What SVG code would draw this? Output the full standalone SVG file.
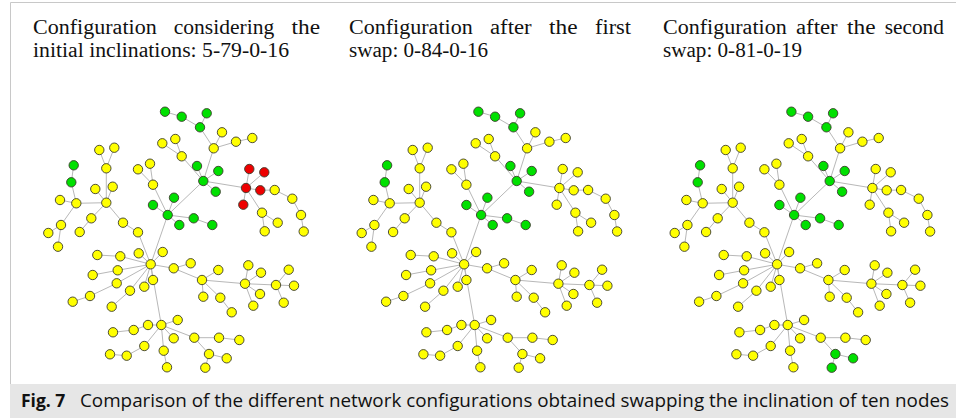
<svg xmlns="http://www.w3.org/2000/svg" xmlns:xlink="http://www.w3.org/1999/xlink" width="956" height="418" viewBox="0 0 956 418">
<style>
.t{font-family:"Liberation Serif","DejaVu Serif",serif;font-size:20.5px;fill:#111}
.cap{font-family:"Open Sans","Liberation Sans",sans-serif;font-size:17.5px;fill:#111}
.e line{stroke:#b8b8b8;stroke-width:1}
circle{stroke:#3c3c2c;stroke-width:0.9}
.y{fill:#ffff00}.g{fill:#00e000}.r{fill:#ee0000}
</style>
<defs>
<g id="edges" class="e">
<line x1="165" y1="111.7" x2="181.7" y2="116.7"/><line x1="181.7" y1="116.7" x2="200" y2="127.3"/><line x1="206.7" y1="113.3" x2="200" y2="127.3"/><line x1="200" y1="127.3" x2="213.7" y2="148.3"/><line x1="222" y1="132.3" x2="213.7" y2="148.3"/><line x1="213.7" y1="148.3" x2="236" y2="141.7"/><line x1="236" y1="141.7" x2="252.3" y2="138"/><line x1="213.7" y1="148.3" x2="203.3" y2="181"/>
<line x1="162.3" y1="143.3" x2="181.7" y2="156.3"/><line x1="175.3" y1="139" x2="181.7" y2="156.3"/><line x1="181.7" y1="156.3" x2="203.3" y2="181"/><line x1="197" y1="166" x2="203.3" y2="181"/><line x1="218.3" y1="171" x2="203.3" y2="181"/><line x1="215.7" y1="191.7" x2="203.3" y2="181"/>
<line x1="203.3" y1="181" x2="246" y2="188"/><line x1="203.3" y1="181" x2="167.7" y2="215"/>
<line x1="249.3" y1="169" x2="246" y2="188"/><line x1="264.3" y1="172.3" x2="246" y2="188"/><line x1="243.3" y1="204.7" x2="246" y2="188"/><line x1="246" y1="188" x2="260.3" y2="190.3"/><line x1="260.3" y1="190.3" x2="274.7" y2="190"/><line x1="274.7" y1="190" x2="292.3" y2="198.7"/><line x1="292.3" y1="198.7" x2="301" y2="215"/><line x1="301" y1="215" x2="303.7" y2="231.5"/>
<line x1="246" y1="188" x2="262" y2="212.7"/><line x1="262" y1="212.7" x2="277.7" y2="222.7"/><line x1="262" y1="212.7" x2="264.7" y2="231.3"/>
<line x1="99.3" y1="150" x2="106.3" y2="168.3"/><line x1="114.3" y1="147.7" x2="106.3" y2="168.3"/><line x1="106.3" y1="168.3" x2="106.3" y2="202.7"/><line x1="95.3" y1="189" x2="106.3" y2="202.7"/><line x1="112.7" y1="186.7" x2="106.3" y2="202.7"/>
<line x1="73.7" y1="165.3" x2="71.3" y2="182.3"/><line x1="71.3" y1="182.3" x2="76.3" y2="203.3"/><line x1="60" y1="200" x2="76.3" y2="203.3"/><line x1="76.3" y1="203.3" x2="106.3" y2="202.7"/><line x1="76.3" y1="203.3" x2="61" y2="225"/><line x1="61" y1="225" x2="48.3" y2="233"/><line x1="61" y1="225" x2="58" y2="246.7"/>
<line x1="106.3" y1="202.7" x2="91.3" y2="218.3"/><line x1="91.3" y1="218.3" x2="79.7" y2="232"/><line x1="106.3" y1="202.7" x2="123" y2="222.7"/><line x1="123" y1="222.7" x2="138" y2="232.3"/><line x1="138" y1="232.3" x2="150.7" y2="264.3"/>
<line x1="138" y1="169.3" x2="153" y2="184.7"/><line x1="150" y1="163.7" x2="153" y2="184.7"/><line x1="153" y1="184.7" x2="167.7" y2="215"/><line x1="153" y1="205" x2="167.7" y2="215"/><line x1="174" y1="197.7" x2="167.7" y2="215"/><line x1="179.3" y1="225" x2="167.7" y2="215"/><line x1="167.7" y1="215" x2="193.7" y2="218.3"/><line x1="193.7" y1="218.3" x2="212.3" y2="225"/><line x1="167.7" y1="215" x2="150.7" y2="264.3"/>
<line x1="97.3" y1="255" x2="120.3" y2="256.3"/><line x1="120.3" y1="256.3" x2="150.7" y2="264.3"/><line x1="138.7" y1="253.3" x2="150.7" y2="264.3"/><line x1="162.7" y1="252" x2="150.7" y2="264.3"/><line x1="173.7" y1="268.3" x2="150.7" y2="264.3"/><line x1="92.7" y1="275" x2="117.7" y2="270.3"/><line x1="117.7" y1="270.3" x2="150.7" y2="264.3"/>
<line x1="72.7" y1="301.7" x2="90" y2="296"/><line x1="90" y1="296" x2="116.7" y2="283.3"/><line x1="116.7" y1="283.3" x2="150.7" y2="264.3"/><line x1="111.7" y1="306.7" x2="130" y2="290.7"/><line x1="130" y1="290.7" x2="150.7" y2="264.3"/><line x1="144.3" y1="286.7" x2="150.7" y2="264.3"/><line x1="153" y1="280" x2="150.7" y2="264.3"/><line x1="150.7" y1="264.3" x2="161.3" y2="325"/>
<line x1="113" y1="332.3" x2="133.7" y2="330"/><line x1="133.7" y1="330" x2="148" y2="325"/><line x1="148" y1="325" x2="161.3" y2="325"/><line x1="173.7" y1="338.3" x2="161.3" y2="325"/><line x1="177.7" y1="320" x2="161.3" y2="325"/><line x1="110" y1="354.3" x2="126.7" y2="355.7"/><line x1="126.7" y1="355.7" x2="144.3" y2="346"/><line x1="144.3" y1="346" x2="161.3" y2="325"/><line x1="163.7" y1="350.7" x2="161.3" y2="325"/><line x1="167" y1="367.3" x2="163.7" y2="350.7"/>
<line x1="173.7" y1="268.3" x2="190.7" y2="263.3"/><line x1="173.7" y1="268.3" x2="202" y2="280"/><line x1="202" y1="280" x2="218.3" y2="270"/><line x1="202" y1="280" x2="203.3" y2="296.7"/><line x1="202" y1="280" x2="220.3" y2="297.7"/><line x1="220.3" y1="297.7" x2="231.7" y2="312.3"/><line x1="202" y1="280" x2="245" y2="283.7"/>
<line x1="245" y1="283.7" x2="248.3" y2="265.3"/><line x1="245" y1="283.7" x2="261" y2="272.7"/><line x1="245" y1="283.7" x2="260" y2="294"/><line x1="245" y1="283.7" x2="253.3" y2="305.7"/><line x1="245" y1="283.7" x2="276" y2="285"/><line x1="276" y1="285" x2="288.7" y2="269.7"/><line x1="276" y1="285" x2="294" y2="285.7"/><line x1="276" y1="285" x2="283.7" y2="302.7"/>
<line x1="161.3" y1="325" x2="194.3" y2="337.7"/><line x1="194.3" y1="337.7" x2="219" y2="337.7"/><line x1="219" y1="337.7" x2="239.3" y2="340"/><line x1="194.3" y1="337.7" x2="209" y2="354"/><line x1="209" y1="354" x2="226.7" y2="358.3"/><line x1="209" y1="354" x2="205.3" y2="367.7"/>
</g>
</defs>

<path d="M10.5,384 V2.5 H956" fill="none" stroke="#c8c8c8" stroke-width="1"/>

<g id="titles">
<text class="t" y="34"><tspan x="33" textLength="123.7" lengthAdjust="spacingAndGlyphs">Configuration</tspan><tspan x="173.7" textLength="100.5" lengthAdjust="spacingAndGlyphs">considering</tspan><tspan x="291.5" textLength="28.5" lengthAdjust="spacingAndGlyphs">the</tspan></text>
<text class="t" x="33" y="57" textLength="256" lengthAdjust="spacingAndGlyphs">initial inclinations: 5-79-0-16</text>
<text class="t" y="34"><tspan x="349" textLength="123.7" lengthAdjust="spacingAndGlyphs">Configuration</tspan><tspan x="490" textLength="41.6" lengthAdjust="spacingAndGlyphs">after</tspan><tspan x="549" textLength="28.5" lengthAdjust="spacingAndGlyphs">the</tspan><tspan x="595" textLength="36" lengthAdjust="spacingAndGlyphs">first</tspan></text>
<text class="t" x="349" y="57" textLength="139" lengthAdjust="spacingAndGlyphs">swap: 0-84-0-16</text>
<text class="t" y="34"><tspan x="663" textLength="123.7" lengthAdjust="spacingAndGlyphs">Configuration</tspan><tspan x="796" textLength="41.6" lengthAdjust="spacingAndGlyphs">after</tspan><tspan x="847" textLength="28.5" lengthAdjust="spacingAndGlyphs">the</tspan><tspan x="884.7" textLength="59.3" lengthAdjust="spacingAndGlyphs">second</tspan></text>
<text class="t" x="663" y="57" textLength="139" lengthAdjust="spacingAndGlyphs">swap: 0-81-0-19</text>
</g>

<g id="connectors">
<use xlink:href="#edges" href="#edges"/>
<use xlink:href="#edges" href="#edges" transform="translate(313.4,0)"/>
<use xlink:href="#edges" href="#edges" transform="translate(626.4,0)"/>
</g>

<g id="graph1">
<g id="a1"><circle class="g" cx="165" cy="111.7" r="4.7"/></g>
<g id="a2"><circle class="g" cx="181.7" cy="116.7" r="4.7"/></g>
<g id="a3"><circle class="g" cx="206.7" cy="113.3" r="4.7"/></g>
<g id="a4"><circle class="g" cx="200" cy="127.3" r="4.7"/></g>
<g id="a5"><circle class="y" cx="213.7" cy="148.3" r="4.7"/></g>
<g id="a6"><circle class="y" cx="222" cy="132.3" r="4.7"/></g>
<g id="a7"><circle class="y" cx="236" cy="141.7" r="4.7"/></g>
<g id="a8"><circle class="y" cx="252.3" cy="138" r="4.7"/></g>
<g id="a9"><circle class="y" cx="162.3" cy="143.3" r="4.7"/></g>
<g id="a10"><circle class="y" cx="175.3" cy="139" r="4.7"/></g>
<g id="a11"><circle class="y" cx="181.7" cy="156.3" r="4.7"/></g>
<g id="a12"><circle class="g" cx="197" cy="166" r="4.7"/></g>
<g id="a13"><circle class="g" cx="218.3" cy="171" r="4.7"/></g>
<g id="a14"><circle class="g" cx="203.3" cy="181" r="4.7"/></g>
<g id="a15"><circle class="g" cx="215.7" cy="191.7" r="4.7"/></g>
<g id="a16"><circle class="r" cx="249.3" cy="169" r="4.7"/></g>
<g id="a17"><circle class="r" cx="264.3" cy="172.3" r="4.7"/></g>
<g id="a18"><circle class="r" cx="246" cy="188" r="4.7"/></g>
<g id="a19"><circle class="r" cx="260.3" cy="190.3" r="4.7"/></g>
<g id="a20"><circle class="r" cx="243.3" cy="204.7" r="4.7"/></g>
<g id="a21"><circle class="y" cx="274.7" cy="190" r="4.7"/></g>
<g id="a22"><circle class="y" cx="292.3" cy="198.7" r="4.7"/></g>
<g id="a23"><circle class="y" cx="301" cy="215" r="4.7"/></g>
<g id="a24"><circle class="y" cx="303.7" cy="231.5" r="4.7"/></g>
<g id="a25"><circle class="y" cx="262" cy="212.7" r="4.7"/></g>
<g id="a26"><circle class="y" cx="277.7" cy="222.7" r="4.7"/></g>
<g id="a27"><circle class="y" cx="264.7" cy="231.3" r="4.7"/></g>
<g id="a28"><circle class="y" cx="99.3" cy="150" r="4.7"/></g>
<g id="a29"><circle class="y" cx="114.3" cy="147.7" r="4.7"/></g>
<g id="a30"><circle class="y" cx="106.3" cy="168.3" r="4.7"/></g>
<g id="a31"><circle class="g" cx="73.7" cy="165.3" r="4.7"/></g>
<g id="a32"><circle class="g" cx="71.3" cy="182.3" r="4.7"/></g>
<g id="a33"><circle class="y" cx="138" cy="169.3" r="4.7"/></g>
<g id="a34"><circle class="y" cx="150" cy="163.7" r="4.7"/></g>
<g id="a35"><circle class="y" cx="153" cy="184.7" r="4.7"/></g>
<g id="a36"><circle class="y" cx="95.3" cy="189" r="4.7"/></g>
<g id="a37"><circle class="y" cx="112.7" cy="186.7" r="4.7"/></g>
<g id="a38"><circle class="y" cx="60" cy="200" r="4.7"/></g>
<g id="a39"><circle class="y" cx="76.3" cy="203.3" r="4.7"/></g>
<g id="a40"><circle class="y" cx="106.3" cy="202.7" r="4.7"/></g>
<g id="a41"><circle class="g" cx="153" cy="205" r="4.7"/></g>
<g id="a42"><circle class="g" cx="174" cy="197.7" r="4.7"/></g>
<g id="a43"><circle class="g" cx="167.7" cy="215" r="4.7"/></g>
<g id="a44"><circle class="g" cx="179.3" cy="225" r="4.7"/></g>
<g id="a45"><circle class="g" cx="193.7" cy="218.3" r="4.7"/></g>
<g id="a46"><circle class="g" cx="212.3" cy="225" r="4.7"/></g>
<g id="a47"><circle class="y" cx="91.3" cy="218.3" r="4.7"/></g>
<g id="a48"><circle class="y" cx="123" cy="222.7" r="4.7"/></g>
<g id="a49"><circle class="y" cx="61" cy="225" r="4.7"/></g>
<g id="a50"><circle class="y" cx="48.3" cy="233" r="4.7"/></g>
<g id="a51"><circle class="y" cx="79.7" cy="232" r="4.7"/></g>
<g id="a52"><circle class="y" cx="138" cy="232.3" r="4.7"/></g>
<g id="a53"><circle class="y" cx="58" cy="246.7" r="4.7"/></g>
<g id="a54"><circle class="y" cx="150.7" cy="264.3" r="4.7"/></g>
<g id="a55"><circle class="y" cx="97.3" cy="255" r="4.7"/></g>
<g id="a56"><circle class="y" cx="120.3" cy="256.3" r="4.7"/></g>
<g id="a57"><circle class="y" cx="138.7" cy="253.3" r="4.7"/></g>
<g id="a58"><circle class="y" cx="162.7" cy="252" r="4.7"/></g>
<g id="a59"><circle class="y" cx="173.7" cy="268.3" r="4.7"/></g>
<g id="a60"><circle class="y" cx="92.7" cy="275" r="4.7"/></g>
<g id="a61"><circle class="y" cx="117.7" cy="270.3" r="4.7"/></g>
<g id="a62"><circle class="y" cx="116.7" cy="283.3" r="4.7"/></g>
<g id="a63"><circle class="y" cx="153" cy="280" r="4.7"/></g>
<g id="a64"><circle class="y" cx="144.3" cy="286.7" r="4.7"/></g>
<g id="a65"><circle class="y" cx="130" cy="290.7" r="4.7"/></g>
<g id="a66"><circle class="y" cx="90" cy="296" r="4.7"/></g>
<g id="a67"><circle class="y" cx="72.7" cy="301.7" r="4.7"/></g>
<g id="a68"><circle class="y" cx="111.7" cy="306.7" r="4.7"/></g>
<g id="a69"><circle class="y" cx="161.3" cy="325" r="4.7"/></g>
<g id="a70"><circle class="y" cx="177.7" cy="320" r="4.7"/></g>
<g id="a71"><circle class="y" cx="148" cy="325" r="4.7"/></g>
<g id="a72"><circle class="y" cx="133.7" cy="330" r="4.7"/></g>
<g id="a73"><circle class="y" cx="113" cy="332.3" r="4.7"/></g>
<g id="a74"><circle class="y" cx="173.7" cy="338.3" r="4.7"/></g>
<g id="a75"><circle class="y" cx="144.3" cy="346" r="4.7"/></g>
<g id="a76"><circle class="y" cx="126.7" cy="355.7" r="4.7"/></g>
<g id="a77"><circle class="y" cx="110" cy="354.3" r="4.7"/></g>
<g id="a78"><circle class="y" cx="163.7" cy="350.7" r="4.7"/></g>
<g id="a79"><circle class="y" cx="167" cy="367.3" r="4.7"/></g>
<g id="a80"><circle class="y" cx="190.7" cy="263.3" r="4.7"/></g>
<g id="a81"><circle class="y" cx="202" cy="280" r="4.7"/></g>
<g id="a82"><circle class="y" cx="218.3" cy="270" r="4.7"/></g>
<g id="a83"><circle class="y" cx="203.3" cy="296.7" r="4.7"/></g>
<g id="a84"><circle class="y" cx="220.3" cy="297.7" r="4.7"/></g>
<g id="a85"><circle class="y" cx="231.7" cy="312.3" r="4.7"/></g>
<g id="a86"><circle class="y" cx="245" cy="283.7" r="4.7"/></g>
<g id="a87"><circle class="y" cx="248.3" cy="265.3" r="4.7"/></g>
<g id="a88"><circle class="y" cx="261" cy="272.7" r="4.7"/></g>
<g id="a89"><circle class="y" cx="260" cy="294" r="4.7"/></g>
<g id="a90"><circle class="y" cx="253.3" cy="305.7" r="4.7"/></g>
<g id="a91"><circle class="y" cx="276" cy="285" r="4.7"/></g>
<g id="a92"><circle class="y" cx="288.7" cy="269.7" r="4.7"/></g>
<g id="a93"><circle class="y" cx="294" cy="285.7" r="4.7"/></g>
<g id="a94"><circle class="y" cx="283.7" cy="302.7" r="4.7"/></g>
<g id="a95"><circle class="y" cx="194.3" cy="337.7" r="4.7"/></g>
<g id="a96"><circle class="y" cx="219" cy="337.7" r="4.7"/></g>
<g id="a97"><circle class="y" cx="239.3" cy="340" r="4.7"/></g>
<g id="a98"><circle class="y" cx="209" cy="354" r="4.7"/></g>
<g id="a99"><circle class="y" cx="226.7" cy="358.3" r="4.7"/></g>
<g id="a100"><circle class="y" cx="205.3" cy="367.7" r="4.7"/></g>
</g>

<g id="graph2" transform="translate(313.4,0)">
<g id="b1"><circle class="g" cx="165" cy="111.7" r="4.7"/></g>
<g id="b2"><circle class="g" cx="181.7" cy="116.7" r="4.7"/></g>
<g id="b3"><circle class="g" cx="206.7" cy="113.3" r="4.7"/></g>
<g id="b4"><circle class="g" cx="200" cy="127.3" r="4.7"/></g>
<g id="b5"><circle class="y" cx="213.7" cy="148.3" r="4.7"/></g>
<g id="b6"><circle class="y" cx="222" cy="132.3" r="4.7"/></g>
<g id="b7"><circle class="y" cx="236" cy="141.7" r="4.7"/></g>
<g id="b8"><circle class="y" cx="252.3" cy="138" r="4.7"/></g>
<g id="b9"><circle class="y" cx="162.3" cy="143.3" r="4.7"/></g>
<g id="b10"><circle class="y" cx="175.3" cy="139" r="4.7"/></g>
<g id="b11"><circle class="y" cx="181.7" cy="156.3" r="4.7"/></g>
<g id="b12"><circle class="g" cx="197" cy="166" r="4.7"/></g>
<g id="b13"><circle class="g" cx="218.3" cy="171" r="4.7"/></g>
<g id="b14"><circle class="g" cx="203.3" cy="181" r="4.7"/></g>
<g id="b15"><circle class="g" cx="215.7" cy="191.7" r="4.7"/></g>
<g id="b16"><circle class="y" cx="249.3" cy="169" r="4.7"/></g>
<g id="b17"><circle class="y" cx="264.3" cy="172.3" r="4.7"/></g>
<g id="b18"><circle class="y" cx="246" cy="188" r="4.7"/></g>
<g id="b19"><circle class="y" cx="260.3" cy="190.3" r="4.7"/></g>
<g id="b20"><circle class="y" cx="243.3" cy="204.7" r="4.7"/></g>
<g id="b21"><circle class="y" cx="274.7" cy="190" r="4.7"/></g>
<g id="b22"><circle class="y" cx="292.3" cy="198.7" r="4.7"/></g>
<g id="b23"><circle class="y" cx="301" cy="215" r="4.7"/></g>
<g id="b24"><circle class="y" cx="303.7" cy="231.5" r="4.7"/></g>
<g id="b25"><circle class="y" cx="262" cy="212.7" r="4.7"/></g>
<g id="b26"><circle class="y" cx="277.7" cy="222.7" r="4.7"/></g>
<g id="b27"><circle class="y" cx="264.7" cy="231.3" r="4.7"/></g>
<g id="b28"><circle class="y" cx="99.3" cy="150" r="4.7"/></g>
<g id="b29"><circle class="y" cx="114.3" cy="147.7" r="4.7"/></g>
<g id="b30"><circle class="y" cx="106.3" cy="168.3" r="4.7"/></g>
<g id="b31"><circle class="g" cx="73.7" cy="165.3" r="4.7"/></g>
<g id="b32"><circle class="g" cx="71.3" cy="182.3" r="4.7"/></g>
<g id="b33"><circle class="y" cx="138" cy="169.3" r="4.7"/></g>
<g id="b34"><circle class="y" cx="150" cy="163.7" r="4.7"/></g>
<g id="b35"><circle class="y" cx="153" cy="184.7" r="4.7"/></g>
<g id="b36"><circle class="y" cx="95.3" cy="189" r="4.7"/></g>
<g id="b37"><circle class="y" cx="112.7" cy="186.7" r="4.7"/></g>
<g id="b38"><circle class="y" cx="60" cy="200" r="4.7"/></g>
<g id="b39"><circle class="y" cx="76.3" cy="203.3" r="4.7"/></g>
<g id="b40"><circle class="y" cx="106.3" cy="202.7" r="4.7"/></g>
<g id="b41"><circle class="g" cx="153" cy="205" r="4.7"/></g>
<g id="b42"><circle class="g" cx="174" cy="197.7" r="4.7"/></g>
<g id="b43"><circle class="g" cx="167.7" cy="215" r="4.7"/></g>
<g id="b44"><circle class="g" cx="179.3" cy="225" r="4.7"/></g>
<g id="b45"><circle class="g" cx="193.7" cy="218.3" r="4.7"/></g>
<g id="b46"><circle class="g" cx="212.3" cy="225" r="4.7"/></g>
<g id="b47"><circle class="y" cx="91.3" cy="218.3" r="4.7"/></g>
<g id="b48"><circle class="y" cx="123" cy="222.7" r="4.7"/></g>
<g id="b49"><circle class="y" cx="61" cy="225" r="4.7"/></g>
<g id="b50"><circle class="y" cx="48.3" cy="233" r="4.7"/></g>
<g id="b51"><circle class="y" cx="79.7" cy="232" r="4.7"/></g>
<g id="b52"><circle class="y" cx="138" cy="232.3" r="4.7"/></g>
<g id="b53"><circle class="y" cx="58" cy="246.7" r="4.7"/></g>
<g id="b54"><circle class="y" cx="150.7" cy="264.3" r="4.7"/></g>
<g id="b55"><circle class="y" cx="97.3" cy="255" r="4.7"/></g>
<g id="b56"><circle class="y" cx="120.3" cy="256.3" r="4.7"/></g>
<g id="b57"><circle class="y" cx="138.7" cy="253.3" r="4.7"/></g>
<g id="b58"><circle class="y" cx="162.7" cy="252" r="4.7"/></g>
<g id="b59"><circle class="y" cx="173.7" cy="268.3" r="4.7"/></g>
<g id="b60"><circle class="y" cx="92.7" cy="275" r="4.7"/></g>
<g id="b61"><circle class="y" cx="117.7" cy="270.3" r="4.7"/></g>
<g id="b62"><circle class="y" cx="116.7" cy="283.3" r="4.7"/></g>
<g id="b63"><circle class="y" cx="153" cy="280" r="4.7"/></g>
<g id="b64"><circle class="y" cx="144.3" cy="286.7" r="4.7"/></g>
<g id="b65"><circle class="y" cx="130" cy="290.7" r="4.7"/></g>
<g id="b66"><circle class="y" cx="90" cy="296" r="4.7"/></g>
<g id="b67"><circle class="y" cx="72.7" cy="301.7" r="4.7"/></g>
<g id="b68"><circle class="y" cx="111.7" cy="306.7" r="4.7"/></g>
<g id="b69"><circle class="y" cx="161.3" cy="325" r="4.7"/></g>
<g id="b70"><circle class="y" cx="177.7" cy="320" r="4.7"/></g>
<g id="b71"><circle class="y" cx="148" cy="325" r="4.7"/></g>
<g id="b72"><circle class="y" cx="133.7" cy="330" r="4.7"/></g>
<g id="b73"><circle class="y" cx="113" cy="332.3" r="4.7"/></g>
<g id="b74"><circle class="y" cx="173.7" cy="338.3" r="4.7"/></g>
<g id="b75"><circle class="y" cx="144.3" cy="346" r="4.7"/></g>
<g id="b76"><circle class="y" cx="126.7" cy="355.7" r="4.7"/></g>
<g id="b77"><circle class="y" cx="110" cy="354.3" r="4.7"/></g>
<g id="b78"><circle class="y" cx="163.7" cy="350.7" r="4.7"/></g>
<g id="b79"><circle class="y" cx="167" cy="367.3" r="4.7"/></g>
<g id="b80"><circle class="y" cx="190.7" cy="263.3" r="4.7"/></g>
<g id="b81"><circle class="y" cx="202" cy="280" r="4.7"/></g>
<g id="b82"><circle class="y" cx="218.3" cy="270" r="4.7"/></g>
<g id="b83"><circle class="y" cx="203.3" cy="296.7" r="4.7"/></g>
<g id="b84"><circle class="y" cx="220.3" cy="297.7" r="4.7"/></g>
<g id="b85"><circle class="y" cx="231.7" cy="312.3" r="4.7"/></g>
<g id="b86"><circle class="y" cx="245" cy="283.7" r="4.7"/></g>
<g id="b87"><circle class="y" cx="248.3" cy="265.3" r="4.7"/></g>
<g id="b88"><circle class="y" cx="261" cy="272.7" r="4.7"/></g>
<g id="b89"><circle class="y" cx="260" cy="294" r="4.7"/></g>
<g id="b90"><circle class="y" cx="253.3" cy="305.7" r="4.7"/></g>
<g id="b91"><circle class="y" cx="276" cy="285" r="4.7"/></g>
<g id="b92"><circle class="y" cx="288.7" cy="269.7" r="4.7"/></g>
<g id="b93"><circle class="y" cx="294" cy="285.7" r="4.7"/></g>
<g id="b94"><circle class="y" cx="283.7" cy="302.7" r="4.7"/></g>
<g id="b95"><circle class="y" cx="194.3" cy="337.7" r="4.7"/></g>
<g id="b96"><circle class="y" cx="219" cy="337.7" r="4.7"/></g>
<g id="b97"><circle class="y" cx="239.3" cy="340" r="4.7"/></g>
<g id="b98"><circle class="y" cx="209" cy="354" r="4.7"/></g>
<g id="b99"><circle class="y" cx="226.7" cy="358.3" r="4.7"/></g>
<g id="b100"><circle class="y" cx="205.3" cy="367.7" r="4.7"/></g>
</g>

<g id="graph3" transform="translate(626.4,0)">
<g id="c1"><circle class="g" cx="165" cy="111.7" r="4.7"/></g>
<g id="c2"><circle class="g" cx="181.7" cy="116.7" r="4.7"/></g>
<g id="c3"><circle class="g" cx="206.7" cy="113.3" r="4.7"/></g>
<g id="c4"><circle class="g" cx="200" cy="127.3" r="4.7"/></g>
<g id="c5"><circle class="y" cx="213.7" cy="148.3" r="4.7"/></g>
<g id="c6"><circle class="y" cx="222" cy="132.3" r="4.7"/></g>
<g id="c7"><circle class="y" cx="236" cy="141.7" r="4.7"/></g>
<g id="c8"><circle class="y" cx="252.3" cy="138" r="4.7"/></g>
<g id="c9"><circle class="y" cx="162.3" cy="143.3" r="4.7"/></g>
<g id="c10"><circle class="y" cx="175.3" cy="139" r="4.7"/></g>
<g id="c11"><circle class="y" cx="181.7" cy="156.3" r="4.7"/></g>
<g id="c12"><circle class="g" cx="197" cy="166" r="4.7"/></g>
<g id="c13"><circle class="g" cx="218.3" cy="171" r="4.7"/></g>
<g id="c14"><circle class="g" cx="203.3" cy="181" r="4.7"/></g>
<g id="c15"><circle class="g" cx="215.7" cy="191.7" r="4.7"/></g>
<g id="c16"><circle class="y" cx="249.3" cy="169" r="4.7"/></g>
<g id="c17"><circle class="y" cx="264.3" cy="172.3" r="4.7"/></g>
<g id="c18"><circle class="y" cx="246" cy="188" r="4.7"/></g>
<g id="c19"><circle class="y" cx="260.3" cy="190.3" r="4.7"/></g>
<g id="c20"><circle class="y" cx="243.3" cy="204.7" r="4.7"/></g>
<g id="c21"><circle class="y" cx="274.7" cy="190" r="4.7"/></g>
<g id="c22"><circle class="y" cx="292.3" cy="198.7" r="4.7"/></g>
<g id="c23"><circle class="y" cx="301" cy="215" r="4.7"/></g>
<g id="c24"><circle class="y" cx="303.7" cy="231.5" r="4.7"/></g>
<g id="c25"><circle class="y" cx="262" cy="212.7" r="4.7"/></g>
<g id="c26"><circle class="y" cx="277.7" cy="222.7" r="4.7"/></g>
<g id="c27"><circle class="y" cx="264.7" cy="231.3" r="4.7"/></g>
<g id="c28"><circle class="y" cx="99.3" cy="150" r="4.7"/></g>
<g id="c29"><circle class="y" cx="114.3" cy="147.7" r="4.7"/></g>
<g id="c30"><circle class="y" cx="106.3" cy="168.3" r="4.7"/></g>
<g id="c31"><circle class="g" cx="73.7" cy="165.3" r="4.7"/></g>
<g id="c32"><circle class="g" cx="71.3" cy="182.3" r="4.7"/></g>
<g id="c33"><circle class="y" cx="138" cy="169.3" r="4.7"/></g>
<g id="c34"><circle class="y" cx="150" cy="163.7" r="4.7"/></g>
<g id="c35"><circle class="y" cx="153" cy="184.7" r="4.7"/></g>
<g id="c36"><circle class="y" cx="95.3" cy="189" r="4.7"/></g>
<g id="c37"><circle class="y" cx="112.7" cy="186.7" r="4.7"/></g>
<g id="c38"><circle class="y" cx="60" cy="200" r="4.7"/></g>
<g id="c39"><circle class="y" cx="76.3" cy="203.3" r="4.7"/></g>
<g id="c40"><circle class="y" cx="106.3" cy="202.7" r="4.7"/></g>
<g id="c41"><circle class="g" cx="153" cy="205" r="4.7"/></g>
<g id="c42"><circle class="g" cx="174" cy="197.7" r="4.7"/></g>
<g id="c43"><circle class="g" cx="167.7" cy="215" r="4.7"/></g>
<g id="c44"><circle class="g" cx="179.3" cy="225" r="4.7"/></g>
<g id="c45"><circle class="g" cx="193.7" cy="218.3" r="4.7"/></g>
<g id="c46"><circle class="g" cx="212.3" cy="225" r="4.7"/></g>
<g id="c47"><circle class="y" cx="91.3" cy="218.3" r="4.7"/></g>
<g id="c48"><circle class="y" cx="123" cy="222.7" r="4.7"/></g>
<g id="c49"><circle class="y" cx="61" cy="225" r="4.7"/></g>
<g id="c50"><circle class="y" cx="48.3" cy="233" r="4.7"/></g>
<g id="c51"><circle class="y" cx="79.7" cy="232" r="4.7"/></g>
<g id="c52"><circle class="y" cx="138" cy="232.3" r="4.7"/></g>
<g id="c53"><circle class="y" cx="58" cy="246.7" r="4.7"/></g>
<g id="c54"><circle class="y" cx="150.7" cy="264.3" r="4.7"/></g>
<g id="c55"><circle class="y" cx="97.3" cy="255" r="4.7"/></g>
<g id="c56"><circle class="y" cx="120.3" cy="256.3" r="4.7"/></g>
<g id="c57"><circle class="y" cx="138.7" cy="253.3" r="4.7"/></g>
<g id="c58"><circle class="y" cx="162.7" cy="252" r="4.7"/></g>
<g id="c59"><circle class="y" cx="173.7" cy="268.3" r="4.7"/></g>
<g id="c60"><circle class="y" cx="92.7" cy="275" r="4.7"/></g>
<g id="c61"><circle class="y" cx="117.7" cy="270.3" r="4.7"/></g>
<g id="c62"><circle class="y" cx="116.7" cy="283.3" r="4.7"/></g>
<g id="c63"><circle class="y" cx="153" cy="280" r="4.7"/></g>
<g id="c64"><circle class="y" cx="144.3" cy="286.7" r="4.7"/></g>
<g id="c65"><circle class="y" cx="130" cy="290.7" r="4.7"/></g>
<g id="c66"><circle class="y" cx="90" cy="296" r="4.7"/></g>
<g id="c67"><circle class="y" cx="72.7" cy="301.7" r="4.7"/></g>
<g id="c68"><circle class="y" cx="111.7" cy="306.7" r="4.7"/></g>
<g id="c69"><circle class="y" cx="161.3" cy="325" r="4.7"/></g>
<g id="c70"><circle class="y" cx="177.7" cy="320" r="4.7"/></g>
<g id="c71"><circle class="y" cx="148" cy="325" r="4.7"/></g>
<g id="c72"><circle class="y" cx="133.7" cy="330" r="4.7"/></g>
<g id="c73"><circle class="y" cx="113" cy="332.3" r="4.7"/></g>
<g id="c74"><circle class="y" cx="173.7" cy="338.3" r="4.7"/></g>
<g id="c75"><circle class="y" cx="144.3" cy="346" r="4.7"/></g>
<g id="c76"><circle class="y" cx="126.7" cy="355.7" r="4.7"/></g>
<g id="c77"><circle class="y" cx="110" cy="354.3" r="4.7"/></g>
<g id="c78"><circle class="y" cx="163.7" cy="350.7" r="4.7"/></g>
<g id="c79"><circle class="y" cx="167" cy="367.3" r="4.7"/></g>
<g id="c80"><circle class="y" cx="190.7" cy="263.3" r="4.7"/></g>
<g id="c81"><circle class="y" cx="202" cy="280" r="4.7"/></g>
<g id="c82"><circle class="y" cx="218.3" cy="270" r="4.7"/></g>
<g id="c83"><circle class="y" cx="203.3" cy="296.7" r="4.7"/></g>
<g id="c84"><circle class="y" cx="220.3" cy="297.7" r="4.7"/></g>
<g id="c85"><circle class="y" cx="231.7" cy="312.3" r="4.7"/></g>
<g id="c86"><circle class="y" cx="245" cy="283.7" r="4.7"/></g>
<g id="c87"><circle class="y" cx="248.3" cy="265.3" r="4.7"/></g>
<g id="c88"><circle class="y" cx="261" cy="272.7" r="4.7"/></g>
<g id="c89"><circle class="y" cx="260" cy="294" r="4.7"/></g>
<g id="c90"><circle class="y" cx="253.3" cy="305.7" r="4.7"/></g>
<g id="c91"><circle class="y" cx="276" cy="285" r="4.7"/></g>
<g id="c92"><circle class="y" cx="288.7" cy="269.7" r="4.7"/></g>
<g id="c93"><circle class="y" cx="294" cy="285.7" r="4.7"/></g>
<g id="c94"><circle class="y" cx="283.7" cy="302.7" r="4.7"/></g>
<g id="c95"><circle class="y" cx="194.3" cy="337.7" r="4.7"/></g>
<g id="c96"><circle class="y" cx="219" cy="337.7" r="4.7"/></g>
<g id="c97"><circle class="y" cx="239.3" cy="340" r="4.7"/></g>
<g id="c98"><circle class="g" cx="209" cy="354" r="4.7"/></g>
<g id="c99"><circle class="g" cx="226.7" cy="358.3" r="4.7"/></g>
<g id="c100"><circle class="g" cx="205.3" cy="367.7" r="4.7"/></g>
</g>

<g id="caption">
<rect x="10" y="384" width="946" height="34" fill="#e6e6e6"/>
<text class="cap" x="21" y="407"><tspan font-weight="bold">Fig. 7</tspan></text>
<text class="cap" x="80" y="407" textLength="869" lengthAdjust="spacingAndGlyphs">Comparison of the different network configurations obtained swapping the inclination of ten nodes</text>
</g>
</svg>
